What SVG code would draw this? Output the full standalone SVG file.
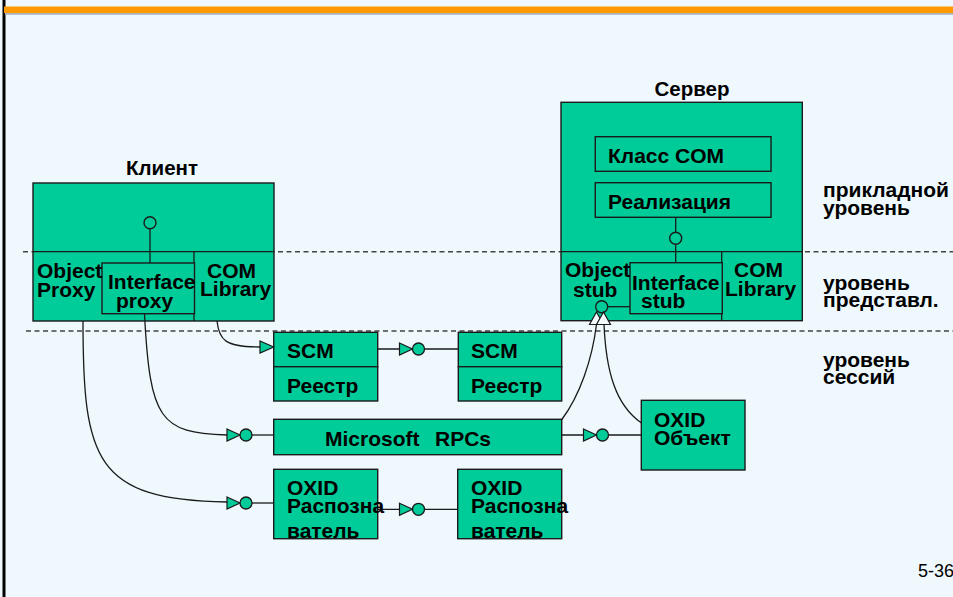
<svg xmlns="http://www.w3.org/2000/svg" xmlns:xlink="http://www.w3.org/1999/xlink" width="953" height="597" viewBox="0 0 953 597">
  <style>
    .box { fill: #00CC99; stroke: #1a1a1a; stroke-width: 1.4; }
    .ln { fill: none; stroke: #1a1a1a; stroke-width: 1.3; }
    .dash { fill: none; stroke: #444; stroke-width: 1.5; stroke-dasharray: 5 3.5; }
    .t { font-family: "Liberation Sans", Arial, sans-serif; font-weight: bold; font-size: 21px; fill: #000; }
    .hd { font-family: "Liberation Sans", Arial, sans-serif; font-weight: bold; font-size: 20.5px; fill: #000; text-anchor: middle; }
    .pg { font-family: "Liberation Sans", Arial, sans-serif; font-size: 18px; fill: #000; }
    .tri { fill: #00CC99; stroke: #1a1a1a; stroke-width: 1.2; }
    .hollow { fill: #F4FBFE; stroke: #1a1a1a; stroke-width: 1.2; }
    .ball { fill: #00CC99; stroke: #1a1a1a; stroke-width: 1.3; }
  </style>
  <defs>
    <!-- socket: filled triangle followed by a ball -->
    <g id="jack">
      <polygon class="tri" points="0,-6 13,0 0,6"/>
      <circle class="ball" cx="19" cy="0" r="6"/>
    </g>
  </defs>

  <!-- page -->
  <rect x="0" y="0" width="953" height="597" fill="#EEF8FD"/>
  <rect x="2.5" y="0" width="3" height="597" fill="#000"/>
  <rect x="4" y="6.5" width="949" height="6.5" fill="#FF9900"/>
  <rect x="5" y="13" width="948" height="1.8" fill="#A8B3BE"/>

  <!-- layer separators -->
  <g id="layers">
    <line class="dash" x1="23" y1="251.7" x2="953" y2="251.7"/>
    <line class="dash" x1="26" y1="331" x2="953" y2="331"/>
  </g>

  <!-- client -->
  <g id="client">
    <text class="hd" x="162" y="175">Клиент</text>
    <rect class="box" x="33" y="183" width="241" height="138"/>
    <line class="ln" x1="33" y1="251.7" x2="274" y2="251.7"/>
    <line class="ln" x1="194" y1="251.7" x2="194" y2="321"/>
    <line class="ln" x1="150" y1="229" x2="150" y2="263"/>
    <circle class="box" cx="150" cy="222.7" r="6"/>
    <rect class="box" x="102" y="263" width="92.5" height="50.7"/>
    <text class="t" x="37" y="278">Object<tspan x="37" dy="19">Proxy</tspan></text>
    <text class="t" x="108" y="289">Interface<tspan x="116" dy="19">proxy</tspan></text>
    <text class="t" x="207" y="278">COM<tspan x="200" dy="18">Library</tspan></text>
  </g>

  <!-- server -->
  <g id="server">
    <text class="hd" x="692" y="96">Сервер</text>
    <rect class="box" x="561" y="102.3" width="241.3" height="218.4"/>
    <line class="ln" x1="561" y1="251.7" x2="802.3" y2="251.7"/>
    <line class="ln" x1="721.7" y1="251.7" x2="721.7" y2="320.7"/>
    <rect class="box" x="595.3" y="136.7" width="175.7" height="34.6"/>
    <text class="t" x="608" y="163">Класс COM</text>
    <rect class="box" x="595.3" y="182.7" width="175.7" height="34.6"/>
    <text class="t" x="608" y="209">Реализация</text>
    <line class="ln" x1="675.7" y1="217.3" x2="675.7" y2="263"/>
    <circle class="box" cx="675.7" cy="238.3" r="6"/>
    <line class="ln" x1="601.7" y1="306.7" x2="630" y2="306.7"/>
    <rect class="box" x="630" y="262.7" width="92.3" height="51"/>
    <circle class="box" cx="601.7" cy="306.7" r="6"/>
    <text class="t" x="565" y="277">Object<tspan x="573" dy="20">stub</tspan></text>
    <text class="t" x="632" y="290">Interface<tspan x="641" dy="18">stub</tspan></text>
    <text class="t" x="734" y="277">COM<tspan x="725" dy="19">Library</tspan></text>
  </g>

  <!-- service control managers -->
  <g id="scm-client">
    <rect class="box" x="273.7" y="332.3" width="104" height="34.4"/>
    <rect class="box" x="273.7" y="366.7" width="104" height="34.3"/>
    <text class="t" x="287" y="358">SCM</text>
    <text class="t" x="287" y="393">Реестр</text>
  </g>
  <g id="scm-server">
    <rect class="box" x="458.3" y="332.3" width="103.4" height="34.4"/>
    <rect class="box" x="458.3" y="366.7" width="103.4" height="34.3"/>
    <text class="t" x="471" y="358">SCM</text>
    <text class="t" x="471" y="393">Реестр</text>
  </g>

  <!-- RPC transport -->
  <g id="rpc">
    <rect class="box" x="273.7" y="419.3" width="288" height="35.4"/>
    <text class="t" x="325" y="446">Microsoft<tspan x="435">RPCs</tspan></text>
  </g>

  <!-- OXID object -->
  <g id="oxid-object">
    <rect class="box" x="641.3" y="400.3" width="103.7" height="69.7"/>
    <text class="t" x="654" y="427">OXID<tspan x="654" dy="18">Объект</tspan></text>
  </g>

  <!-- OXID resolvers -->
  <g id="oxid-client">
    <rect class="box" x="273.7" y="469.3" width="104" height="69.4"/>
  </g>
  <g id="oxid-server">
    <rect class="box" x="457.7" y="469.3" width="104" height="69.4"/>
  </g>

  <!-- connectors -->
  <g id="connectors">
    <!-- COM library to local SCM -->
    <path class="ln" d="M217,321 C219,340 225,347 260,347"/>
    <polygon class="tri" points="260,341 273.7,347 260,353"/>
    <!-- SCM to SCM -->
    <line class="ln" x1="377.7" y1="349" x2="458.3" y2="349"/>
    <use xlink:href="#jack" x="399.5" y="349"/>
    <!-- interface proxy to RPC -->
    <path class="ln" d="M144.5,314 C150,420 160,433 227,435"/>
    <line class="ln" x1="246" y1="435" x2="273.7" y2="435"/>
    <use xlink:href="#jack" x="227" y="435"/>
    <!-- object proxy to OXID resolver -->
    <path class="ln" d="M83,321 C83,460 95,500 227,502"/>
    <line class="ln" x1="246" y1="503" x2="273.7" y2="503"/>
    <use xlink:href="#jack" x="227" y="503"/>
    <!-- resolver to resolver -->
    <line class="ln" x1="377.7" y1="509.3" x2="457.7" y2="509.3"/>
    <use xlink:href="#jack" x="399.5" y="509.3"/>
    <!-- RPC to OXID object -->
    <line class="ln" x1="561.7" y1="435" x2="641.3" y2="435"/>
    <use xlink:href="#jack" x="583.5" y="435"/>
    <!-- RPC and OXID object up to object stub -->
    <path class="ln" d="M561.5,420 C580,395 592,360 596.5,324.5"/>
    <path class="ln" d="M641.5,423 C615,405 606,370 604,324.5"/>
    <polygon class="hollow" points="589.5,324.5 603.5,324.5 596.5,312"/>
    <polygon class="hollow" points="596.5,324.5 610.5,324.5 603.5,312"/>
  </g>

  <!-- resolver labels drawn over the connector -->
  <g id="oxid-labels">
    <text class="t" x="287" y="495">OXID<tspan x="287" dy="18">Распозна</tspan><tspan x="287" dy="25">ватель</tspan></text>
    <text class="t" x="471" y="495">OXID<tspan x="471" dy="18">Распозна</tspan><tspan x="471" dy="25">ватель</tspan></text>
  </g>

  <!-- layer names -->
  <g id="layer-names">
    <text class="t" x="823" y="197">прикладной<tspan x="823" dy="18">уровень</tspan></text>
    <text class="t" x="823" y="290">уровень<tspan x="823" dy="17">представл.</tspan></text>
    <text class="t" x="823" y="367">уровень<tspan x="823" dy="17">сессий</tspan></text>
  </g>

  <text class="pg" x="918" y="577">5-36</text>
</svg>
